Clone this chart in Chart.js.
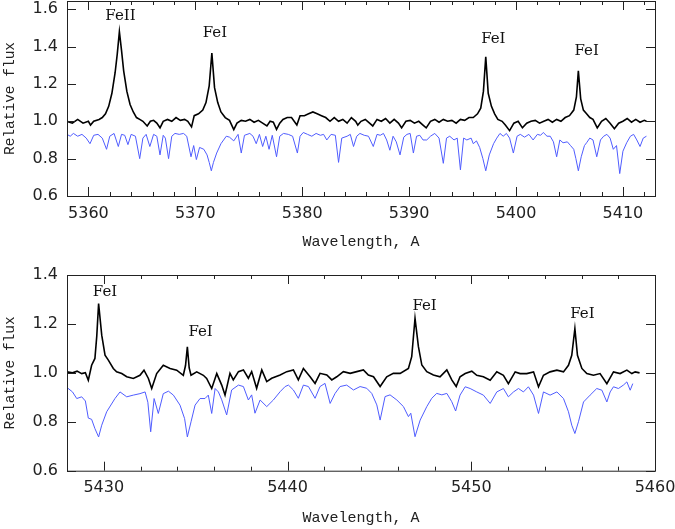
<!DOCTYPE html>
<html>
<head>
<meta charset="utf-8">
<script src="https://cdn.jsdelivr.net/npm/chart.js@4.4.1/dist/chart.umd.min.js"></script>
<style>
  html, body { margin: 0; padding: 0; background: #fff; }
  .panel { position: relative; width: 675px; }
  canvas { display: block; }
</style>
</head>
<body>
<div class="panel" style="height:258px"><canvas id="topChart" width="675" height="258"></canvas></div>
<div class="panel" style="height:271px"><canvas id="bottomChart" width="675" height="271"></canvas></div>
<script>
// --- DATA: top panel (5358-5413 A) ---
const topXTicks = [5360, 5370, 5380, 5390, 5400, 5410];
const topYTicks = [0.6, 0.8, 1.0, 1.2, 1.4, 1.6];

// observed spectrum (black)
const topObsWave = [5358.0,5358.5,5359.0,5359.5,5360.0,5360.2,5360.5,5361.0,5361.3,5361.6,5361.9,5362.2,5362.5,5362.7,5362.9,5363.1,5363.3,5363.6,5363.9,5364.2,5364.5,5364.8,5365.1,5365.5,5365.8,5366.1,5366.4,5366.7,5367.0,5367.4,5367.8,5368.2,5368.6,5369.0,5369.3,5369.65,5369.9,5370.3,5370.7,5371.0,5371.3,5371.55,5371.8,5372.1,5372.4,5372.8,5373.2,5373.6,5373.9,5374.3,5374.7,5375.1,5375.5,5375.9,5376.3,5376.7,5377.0,5377.3,5377.6,5377.9,5378.2,5378.6,5379.0,5379.5,5379.8,5380.2,5380.6,5381.0,5381.4,5381.8,5382.2,5382.6,5383.0,5383.4,5383.8,5384.2,5384.6,5385.0,5385.2,5385.5,5385.9,5386.3,5386.6,5387.0,5387.4,5387.8,5388.2,5388.6,5389.0,5389.3,5389.7,5390.1,5390.5,5390.9,5391.3,5391.6,5392.0,5392.4,5392.8,5393.2,5393.6,5394.0,5394.4,5394.8,5395.2,5395.6,5396.0,5396.4,5396.7,5396.95,5397.17,5397.4,5397.7,5398.0,5398.3,5398.7,5399.0,5399.4,5399.8,5400.2,5400.6,5401.0,5401.4,5401.8,5402.2,5402.6,5403.0,5403.4,5403.8,5404.2,5404.6,5405.0,5405.4,5405.65,5405.83,5406.05,5406.3,5406.6,5406.9,5407.2,5407.6,5408.0,5408.4,5408.8,5409.2,5409.6,5410.0,5410.4,5410.8,5411.2,5411.6,5412.0,5412.2];
const topObsFlux = [1.00,0.99,1.01,0.99,1.00,0.98,1.00,1.01,1.02,1.04,1.08,1.15,1.26,1.36,1.48,1.38,1.27,1.16,1.09,1.05,1.02,1.01,1.00,0.975,1.00,1.005,0.99,0.965,1.00,1.01,1.00,1.02,1.005,1.01,1.00,0.97,1.03,1.04,1.06,1.10,1.19,1.365,1.18,1.10,1.05,1.02,1.005,0.955,0.99,1.005,1.00,1.01,0.995,1.005,0.99,0.975,1.00,0.995,0.957,0.99,1.01,1.02,1.02,0.98,1.03,1.03,1.04,1.05,1.04,1.03,1.02,1.00,1.02,1.00,1.01,0.99,1.02,1.00,0.98,1.00,1.01,0.99,0.975,1.01,1.00,1.015,0.99,1.01,0.99,0.965,1.00,1.005,0.99,1.00,0.98,0.965,1.00,1.01,0.995,1.01,1.00,1.005,0.99,1.01,1.005,1.02,1.02,1.04,1.07,1.16,1.345,1.15,1.08,1.04,1.01,1.00,0.98,0.95,0.99,1.00,0.965,0.99,1.00,1.005,0.99,1.00,1.01,0.995,1.01,1.00,1.02,1.03,1.06,1.13,1.27,1.12,1.06,1.04,1.02,1.01,0.965,1.00,1.015,0.99,0.96,0.99,1.00,1.015,0.995,1.01,0.995,1.005,1.00];

// synthetic spectrum (blue)
const topSynWave = [5358.0,5358.3,5358.6,5359.0,5359.4,5359.8,5360.15,5360.5,5360.9,5361.3,5361.7,5362.0,5362.4,5362.8,5363.1,5363.4,5363.7,5364.0,5364.4,5364.8,5365.1,5365.4,5365.75,5366.1,5366.4,5366.7,5367.0,5367.2,5367.5,5367.8,5368.1,5368.5,5368.9,5369.2,5369.6,5369.85,5370.1,5370.4,5370.8,5371.1,5371.3,5371.5,5371.7,5372.0,5372.4,5372.9,5373.2,5373.6,5374.0,5374.3,5374.6,5375.1,5375.4,5375.7,5376.0,5376.3,5376.6,5376.9,5377.2,5377.6,5377.9,5378.25,5378.7,5379.1,5379.55,5379.8,5380.1,5380.5,5380.9,5381.3,5381.7,5382.0,5382.3,5382.7,5383.1,5383.4,5383.7,5384.2,5384.5,5384.8,5385.1,5385.4,5385.8,5386.2,5386.65,5387.0,5387.3,5387.6,5387.9,5388.2,5388.5,5388.8,5389.15,5389.5,5389.8,5390.1,5390.4,5390.7,5391.0,5391.3,5391.65,5392.0,5392.4,5392.8,5393.2,5393.5,5393.8,5394.2,5394.5,5394.8,5395.1,5395.4,5395.8,5396.0,5396.3,5396.6,5396.9,5397.17,5397.5,5397.9,5398.2,5398.5,5398.8,5399.1,5399.4,5399.75,5400.1,5400.4,5400.8,5401.2,5401.6,5402.0,5402.3,5402.55,5402.9,5403.2,5403.5,5403.8,5404.1,5404.4,5404.8,5405.1,5405.4,5405.6,5405.83,5406.1,5406.4,5406.6,5406.9,5407.2,5407.55,5407.9,5408.2,5408.5,5408.8,5409.1,5409.4,5409.7,5410.0,5410.35,5410.7,5411.0,5411.3,5411.6,5411.9,5412.2];
const topSynFlux = [0.93,0.92,0.935,0.92,0.93,0.91,0.88,0.925,0.93,0.91,0.85,0.92,0.935,0.865,0.93,0.925,0.875,0.93,0.92,0.80,0.91,0.93,0.865,0.93,0.92,0.82,0.925,0.91,0.80,0.92,0.935,0.93,0.935,0.92,0.81,0.87,0.795,0.86,0.85,0.82,0.78,0.735,0.78,0.83,0.88,0.92,0.915,0.895,0.93,0.83,0.925,0.935,0.92,0.88,0.93,0.865,0.92,0.85,0.925,0.81,0.92,0.935,0.93,0.92,0.83,0.92,0.94,0.93,0.92,0.935,0.925,0.93,0.90,0.93,0.925,0.78,0.91,0.92,0.93,0.865,0.92,0.935,0.925,0.92,0.865,0.93,0.925,0.935,0.90,0.845,0.92,0.89,0.82,0.915,0.93,0.935,0.83,0.92,0.925,0.90,0.90,0.92,0.935,0.91,0.775,0.91,0.92,0.90,0.91,0.74,0.91,0.90,0.91,0.88,0.895,0.86,0.80,0.735,0.82,0.88,0.91,0.935,0.92,0.935,0.91,0.83,0.92,0.93,0.915,0.93,0.90,0.93,0.925,0.94,0.92,0.92,0.89,0.81,0.90,0.885,0.89,0.87,0.85,0.80,0.735,0.81,0.87,0.885,0.91,0.90,0.81,0.90,0.92,0.93,0.91,0.85,0.87,0.72,0.84,0.885,0.92,0.93,0.90,0.865,0.91,0.92];

const topLabels = [
  { text: 'FeII', x: 5363.0, y: 1.543 },
  { text: 'FeI', x: 5371.84, y: 1.453 },
  { text: 'FeI', x: 5397.88, y: 1.421 },
  { text: 'FeI', x: 5406.61, y: 1.355 }
];

// --- DATA: bottom panel (5428-5460 A) ---
const bottomXTicks = [5430, 5440, 5450, 5460];
const bottomYTicks = [0.6, 0.8, 1.0, 1.2, 1.4];

const botObsWave = [5428.0,5428.3,5428.55,5428.8,5429.0,5429.16,5429.34,5429.52,5429.62,5429.72,5429.89,5430.07,5430.25,5430.52,5430.70,5430.98,5431.25,5431.61,5431.97,5432.19,5432.43,5432.61,5432.88,5433.24,5433.61,5433.97,5434.33,5434.45,5434.55,5434.65,5434.75,5435.06,5435.42,5435.60,5435.875,5436.15,5436.42,5436.60,5436.87,5437.05,5437.33,5437.60,5437.87,5438.05,5438.32,5438.60,5438.87,5439.14,5439.60,5439.96,5440.32,5440.59,5440.865,5441.23,5441.50,5441.77,5442.14,5442.41,5442.68,5443.04,5443.41,5443.77,5444.13,5444.40,5444.68,5445.04,5445.40,5445.76,5446.13,5446.58,5446.76,5446.94,5447.125,5447.31,5447.58,5447.94,5448.30,5448.67,5448.94,5449.18,5449.39,5449.67,5450.03,5450.30,5450.66,5451.03,5451.39,5451.75,5452.02,5452.39,5452.66,5453.02,5453.39,5453.66,5453.93,5454.29,5454.66,5455.02,5455.29,5455.47,5455.64,5455.78,5456.02,5456.29,5456.65,5457.01,5457.38,5457.74,5458.10,5458.47,5458.74,5458.92,5459.16];
const botObsFlux = [1.004,1.000,1.007,0.997,1.001,0.970,1.031,1.059,1.15,1.283,1.154,1.072,1.052,1.018,1.004,0.997,0.984,0.977,0.990,1.011,0.977,0.936,0.997,1.031,1.018,1.011,0.990,1.03,1.106,1.02,0.990,1.004,0.990,0.977,0.936,0.997,0.95,0.909,0.998,0.971,1.005,1.012,0.978,1.005,0.937,1.012,0.964,0.978,0.991,1.005,1.012,0.971,1.018,0.984,0.957,0.998,0.991,0.971,0.984,1.005,0.998,1.005,1.012,0.991,0.984,0.944,0.984,0.998,0.998,1.018,1.066,1.223,1.107,1.032,1.005,0.991,0.984,1.012,0.971,0.944,0.984,0.997,1.007,0.990,0.984,0.970,1.004,0.990,0.956,1.004,0.997,0.997,1.004,0.943,0.990,1.004,1.011,1.004,1.031,1.072,1.181,1.072,1.018,0.997,0.990,0.997,0.956,1.004,0.997,1.011,0.997,1.004,1.000];

const botSynWave = [5428.0,5428.3,5428.53,5428.8,5429.0,5429.16,5429.34,5429.52,5429.72,5429.89,5430.16,5430.61,5430.885,5431.25,5431.61,5431.97,5432.25,5432.40,5432.555,5432.74,5432.97,5433.24,5433.52,5433.79,5434.15,5434.40,5434.55,5434.75,5434.97,5435.24,5435.51,5435.69,5435.875,5436.06,5436.24,5436.42,5436.69,5436.96,5437.33,5437.60,5437.87,5438.05,5438.23,5438.51,5438.87,5439.23,5439.60,5439.87,5440.05,5440.32,5440.59,5440.865,5441.14,5441.50,5441.77,5442.04,5442.32,5442.59,5442.86,5443.22,5443.59,5443.95,5444.31,5444.585,5444.86,5445.04,5445.31,5445.58,5445.95,5446.31,5446.58,5446.71,5446.94,5447.22,5447.58,5447.85,5448.12,5448.40,5448.67,5448.94,5449.15,5449.39,5449.67,5449.94,5450.30,5450.66,5451.03,5451.39,5451.75,5452.02,5452.30,5452.57,5452.84,5453.11,5453.39,5453.66,5453.93,5454.29,5454.66,5455.02,5455.29,5455.47,5455.64,5455.835,5456.11,5456.47,5456.83,5457.11,5457.38,5457.56,5457.74,5458.01,5458.28,5458.47,5458.65,5458.79];
const botSynFlux = [0.940,0.922,0.895,0.902,0.885,0.815,0.81,0.772,0.738,0.786,0.841,0.895,0.922,0.902,0.909,0.915,0.922,0.88,0.759,0.895,0.834,0.915,0.925,0.909,0.868,0.813,0.738,0.80,0.868,0.895,0.895,0.909,0.834,0.936,0.922,0.89,0.828,0.930,0.950,0.944,0.889,0.910,0.835,0.889,0.862,0.889,0.923,0.944,0.950,0.930,0.896,0.950,0.944,0.896,0.944,0.957,0.875,0.916,0.944,0.950,0.930,0.944,0.937,0.916,0.869,0.807,0.903,0.910,0.889,0.862,0.821,0.835,0.739,0.807,0.862,0.896,0.916,0.910,0.916,0.882,0.844,0.909,0.943,0.936,0.922,0.909,0.875,0.922,0.936,0.902,0.922,0.936,0.922,0.943,0.909,0.834,0.922,0.909,0.922,0.895,0.841,0.786,0.752,0.80,0.881,0.909,0.936,0.929,0.881,0.922,0.943,0.936,0.950,0.963,0.929,0.956];

const bottomLabels = [
  { text: 'FeI', x: 5430.07, y: 1.315 },
  { text: 'FeI', x: 5435.27, y: 1.151 },
  { text: 'FeI', x: 5447.46, y: 1.257 },
  { text: 'FeI', x: 5456.05, y: 1.223 }
];

// --- PLUGINS ---
// box frame with inward ticks on all four sides
const frameTicks = {
  id: 'frameTicks',
  afterDraw(chart, args, opts) {
    const { ctx, chartArea: a, scales: { x, y } } = chart;
    ctx.save();
    ctx.strokeStyle = '#222';
    ctx.lineWidth = 1;
    ctx.strokeRect(a.left + 0.5, a.top + 0.5, a.right - a.left, a.bottom - a.top);
    ctx.beginPath();
    for (let v = Math.ceil(x.min / 2) * 2; v <= x.max; v += 2) {
      const px = Math.round(x.getPixelForValue(v)) + 0.5;
      const len = v % 10 === 0 ? 9 : 4;
      ctx.moveTo(px, a.bottom); ctx.lineTo(px, a.bottom - len);
      ctx.moveTo(px, a.top); ctx.lineTo(px, a.top + len);
    }
    opts.yTicks.forEach(v => {
      const py = Math.round(y.getPixelForValue(v)) + 0.5;
      ctx.moveTo(a.left, py); ctx.lineTo(a.left + 9, py);
      ctx.moveTo(a.right, py); ctx.lineTo(a.right - 9, py);
    });
    ctx.stroke();
    ctx.restore();
  }
};

// line identification labels
const lineLabels = {
  id: 'lineLabels',
  afterDatasetsDraw(chart, args, opts) {
    const { ctx, scales: { x, y } } = chart;
    ctx.save();
    ctx.fillStyle = '#111';
    ctx.font = '15px "DejaVu Serif", serif';
    ctx.textAlign = 'center';
    ctx.textBaseline = 'alphabetic';
    opts.items.forEach(l => ctx.fillText(l.text, x.getPixelForValue(l.x), y.getPixelForValue(l.y)));
    ctx.restore();
  }
};

function toPoints(wave, flux) {
  return wave.map((w, i) => ({ x: w, y: flux[i] }));
}

function makePanel(id, p) {
  new Chart(document.getElementById(id), {
    type: 'line',
    data: {
      datasets: [
        { data: toPoints(p.synWave, p.synFlux), borderColor: '#4f5cff', borderWidth: 1 },
        { data: toPoints(p.obsWave, p.obsFlux), borderColor: '#000', borderWidth: 1.6 }
      ]
    },
    options: {
      responsive: false,
      animation: false,
      events: [],
      layout: { padding: { top: p.padTop, right: 20, left: 0, bottom: 0 } },
      elements: { point: { radius: 0 }, line: { tension: 0 } },
      plugins: {
        legend: { display: false },
        tooltip: { enabled: false },
        frameTicks: { yTicks: p.yTicks },
        lineLabels: { items: p.labels }
      },
      scales: {
        x: {
          type: 'linear', min: p.xMin, max: p.xMax,
          grid: { display: false, drawTicks: false }, border: { display: false },
          afterBuildTicks: s => { s.ticks = p.xTicks.map(v => ({ value: v })); },
          afterFit: s => { s.height = p.xHeight; s.paddingLeft = 0; s.paddingRight = 0; },
          ticks: { color: '#222', font: { family: 'DejaVu Sans', size: 16 }, padding: 8, maxRotation: 0, autoSkip: false, callback: v => String(v) },
          title: { display: true, text: 'Wavelength, A', color: '#222', font: { family: 'Liberation Mono', size: 15 }, padding: { top: 0, bottom: p.titlePad } }
        },
        y: {
          min: 0.6, max: p.yMax,
          grid: { display: false, drawTicks: false }, border: { display: false },
          afterBuildTicks: s => { s.ticks = p.yTicks.map(v => ({ value: v })); },
          afterFit: s => { s.width = 67; s.paddingTop = 0; s.paddingBottom = 0; },
          ticks: { color: '#222', font: { family: 'DejaVu Sans', size: 16 }, padding: 9, autoSkip: false, callback: v => v.toFixed(1) },
          title: { display: true, text: 'Relative flux', color: '#222', font: { family: 'Liberation Mono', size: 14.5 }, padding: { top: 1, bottom: 0 } }
        }
      }
    },
    plugins: [frameTicks, lineLabels]
  });
}

makePanel('topChart', {
  obsWave: topObsWave, obsFlux: topObsFlux, synWave: topSynWave, synFlux: topSynFlux,
  xMin: 5358, xMax: 5413, yMax: 1.644, xTicks: topXTicks, yTicks: topYTicks, labels: topLabels,
  padTop: 1, xHeight: 62, titlePad: 7
});

makePanel('bottomChart', {
  obsWave: botObsWave, obsFlux: botObsFlux, synWave: botSynWave, synFlux: botSynFlux,
  xMin: 5428, xMax: 5460, yMax: 1.4, xTicks: bottomXTicks, yTicks: bottomYTicks, labels: bottomLabels,
  padTop: 17, xHeight: 58.3, titlePad: 2
});
</script>
</body>
</html>
